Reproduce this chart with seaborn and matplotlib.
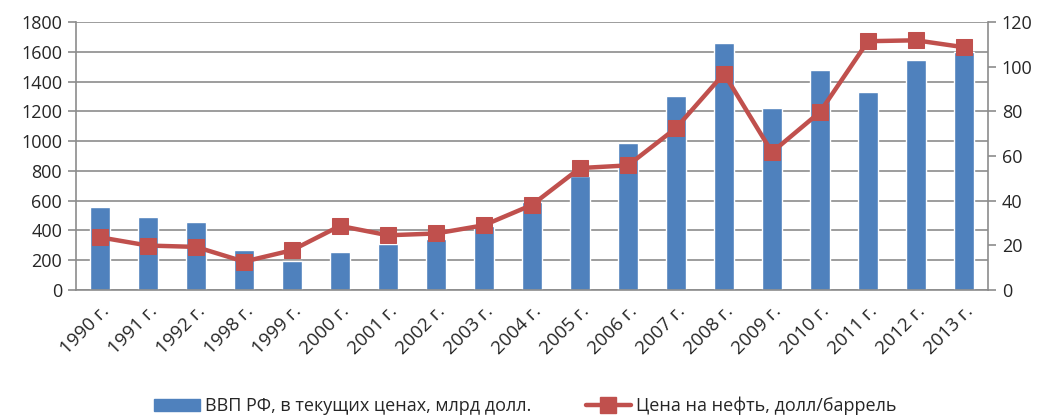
import matplotlib
matplotlib.use("Agg")
import matplotlib.pyplot as plt
import seaborn as sns
import numpy as np
import pandas as pd
from matplotlib.patches import Patch
from matplotlib.lines import Line2D

years = ["1990 г.", "1991 г.", "1992 г.", "1998 г.", "1999 г.", "2000 г.", "2001 г.",
         "2002 г.", "2003 г.", "2004 г.", "2005 г.", "2006 г.", "2007 г.", "2008 г.",
         "2009 г.", "2010 г.", "2011 г.", "2012 г.", "2013 г."]
gdp = [556, 492, 460, 268, 196, 258, 306, 345, 430, 591, 764, 990, 1300, 1660,
       1222, 1480, 1330, 1545, 1600]
oil = [23.6, 19.9, 19.3, 12.7, 17.8, 28.7, 24.5, 25.3, 29.0, 38.1, 54.6, 55.8,
       72.5, 96.9, 61.7, 79.7, 111.4, 111.8, 108.7]
gdp_label = "ВВП РФ, в текущих ценах, млрд долл."
oil_label = "Цена на нефть, долл/баррель"

sns.set_style("white")
plt.rcParams['font.family'] = ['Open Sans', 'DejaVu Sans']

bar_color = "#4F81BD"
line_color = "#C0504D"
grid_color = "#8C8C8C"

df = pd.DataFrame({"year": years, "gdp": gdp, "oil": oil, "pos": np.arange(len(years))})

fig = plt.figure(figsize=(10.51, 4.16), dpi=100)
ax = fig.add_axes([76/1051, 1 - 290/416, (988-76)/1051, (290-22)/416])

sns.barplot(data=df, x="year", y="gdp", color=bar_color, width=0.4, ax=ax,
            saturation=1, zorder=2)
ax.set_xlim(-0.5, len(years) - 0.5)
ax.set_ylim(0, 1800)
ax.set_yticks(np.arange(0, 1801, 200))
ax.yaxis.grid(True, color=grid_color, linewidth=1.2, zorder=0)
ax.set_axisbelow(True)
ax.set_xlabel("")
ax.set_ylabel("")
for s in ["top", "right"]:
    ax.spines[s].set_visible(False)
for s in ["left", "bottom"]:
    ax.spines[s].set_color(grid_color)
    ax.spines[s].set_linewidth(1.2)

ax.set_xticks(np.arange(len(years)))
ax.set_xticklabels(years, rotation=45, ha="right", rotation_mode="anchor", fontsize=13.5)
ax.tick_params(axis="x", length=0, pad=9)
ax.set_xticks(np.arange(-0.5, len(years), 1), minor=True)
ax.tick_params(axis="x", which="minor", length=6, color=grid_color, width=1.2)
ax.tick_params(axis="y", length=6, color=grid_color, width=1.2, labelsize=13, pad=4, left=True)

ax2 = ax.twinx()
sns.lineplot(data=df, x="pos", y="oil", color=line_color, linewidth=3.2, marker="s",
             markersize=12, markeredgecolor=line_color, ax=ax2, zorder=3)
ax2.set_ylim(0, 120)
ax2.set_yticks(np.arange(0, 121, 20))
ax2.set_xlim(-0.5, len(years) - 0.5)
ax2.set_xlabel("")
ax2.set_ylabel("")
for s in ["top", "left", "bottom"]:
    ax2.spines[s].set_visible(False)
ax2.spines["right"].set_color(grid_color)
ax2.spines["right"].set_linewidth(1.2)
ax2.tick_params(axis="y", length=6, color=grid_color, width=1.2, labelsize=13, pad=4, right=True)

handles = [Patch(facecolor=bar_color, edgecolor=bar_color),
           Line2D([0], [0], color=line_color, linewidth=3.2, marker="s", markersize=12)]
fig.legend(handles, [gdp_label, oil_label], loc="center", bbox_to_anchor=(0.5, 1 - 406/416),
           ncol=2, frameon=False, fontsize=13, handlelength=2.5, columnspacing=3,
           handletextpad=0.3)

fig.savefig("out.png", dpi=100)
